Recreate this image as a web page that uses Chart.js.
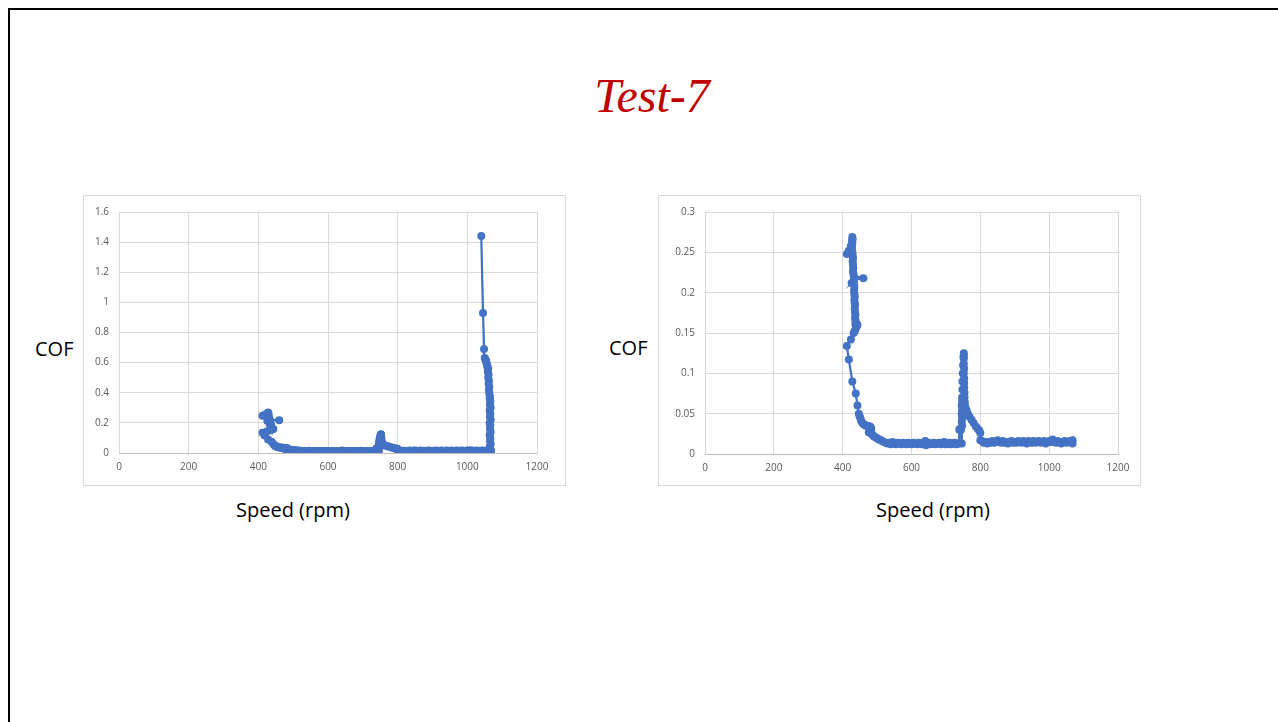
<!DOCTYPE html>
<html>
<head>
<meta charset="utf-8">
<script src="https://cdn.jsdelivr.net/npm/chart.js@4/dist/chart.umd.min.js"></script>
<style>
  html, body { margin: 0; padding: 0; background: #fff; }
  body { width: 1278px; height: 722px; position: relative; overflow: hidden; font-family: "Open Sans", Lato, sans-serif; }
  .slide { position: absolute; left: 8px; top: 8px; width: 1320px; height: 800px; border: 2px solid #000; box-sizing: border-box; }
  .title { position: absolute; left: 0; width: 1304px; top: 70px; text-align: center; font-family: "Liberation Serif", serif; font-style: italic; font-size: 48px; line-height: 52px; color: #c00000; }
  .box { position: absolute; top: 195px; width: 483px; height: 291px; border: 1px solid #d9d9d9; box-sizing: border-box; background: #fff; }
  .box canvas { display: block; }
  .lbl { position: absolute; font-size: 20px; line-height: 26px; color: #000; white-space: nowrap; }
</style>
</head>
<body>
<div class="slide"></div>
<div class="title">Test-7</div>

<div class="box" style="left:83px"><canvas id="cofFull" width="481" height="289"></canvas></div>
<div class="box" style="left:658px"><canvas id="cofZoom" width="481" height="289"></canvas></div>

<div class="lbl" style="left:35px; top:336px">COF</div>
<div class="lbl" style="left:236px; top:497px">Speed (rpm)</div>
<div class="lbl" style="left:609px; top:335px">COF</div>
<div class="lbl" style="left:876px; top:497px">Speed (rpm)</div>

<script>
(() => {
    'use strict'

    // run data: speed (rpm) and coefficient of friction
    const speed = [
        // start-up
        412, 418, 424, 427, 428, 429, 428, 427, 428, 429, 430, 429, 430, 431, 430, 431, 432, 460, 433, 426,
        432, 433, 434, 433, 434, 435, 434, 435, 436, 435, 436, 437, 436, 437, 438, 437, 439, 441, 443, 440,
        436, 432, 424, 412,
        // running in
        418, 428, 438, 443, 447, 449, 451, 453, 455, 458, 461, 464, 468, 472, 476, 480, 483, 478, 476, 480,
        484, 487, 490, 494, 498, 502, 506, 510, 515, 520, 525, 530,
        // steady
        535, 540, 545, 550, 555, 560, 565, 570, 575, 580, 585, 590, 595, 600, 605, 610, 615, 620, 625, 630,
        635, 640, 642, 645, 650, 655, 660, 665, 670, 675, 680, 685, 690, 695, 700, 705, 710, 715, 720, 725,
        730, 735,
        // bump around 750 rpm
        738, 739, 740, 744, 746, 747, 746, 747, 746, 747, 746, 747, 747, 748, 748, 749, 750, 751, 752, 752,
        752, 752, 753, 752, 753, 753, 753, 754, 754, 755, 757, 760, 764, 769, 775, 781, 787, 793, 797, 800,
        800,
        // steady
        805, 810, 815, 820, 825, 830, 835, 840, 845, 850, 855, 860, 865, 870, 875, 880, 885, 890, 895, 900,
        905, 910, 915, 920, 925, 930, 935, 940, 945, 950, 955, 960, 965, 970, 975, 980, 985, 990, 995, 1000,
        1005, 1010, 1015, 1020, 1025, 1030, 1035, 1040, 1045, 1050, 1055, 1060, 1065, 1068, 1068
    ]
    const cof = [
        0.248, 0.252, 0.258, 0.264, 0.269, 0.266, 0.261, 0.256, 0.251, 0.247, 0.243, 0.239, 0.235, 0.231, 0.227, 0.224, 0.221, 0.218, 0.216, 0.212,
        0.214, 0.210, 0.206, 0.202, 0.198, 0.195, 0.191, 0.187, 0.184, 0.180, 0.176, 0.173, 0.169, 0.166, 0.163, 0.161, 0.159, 0.161, 0.160, 0.157,
        0.153, 0.150, 0.142, 0.134,

        0.117, 0.090, 0.075, 0.060, 0.050, 0.047, 0.045, 0.042, 0.040, 0.038, 0.037, 0.036, 0.035, 0.035, 0.034, 0.034, 0.032, 0.030, 0.027, 0.026,
        0.025, 0.024, 0.022, 0.021, 0.020, 0.019, 0.018, 0.017, 0.016, 0.015, 0.014, 0.013,

        0.014, 0.012, 0.015, 0.013, 0.012, 0.014, 0.013, 0.012, 0.014, 0.013, 0.012, 0.014, 0.013, 0.012, 0.014, 0.013, 0.012, 0.014, 0.013, 0.012,
        0.014, 0.016, 0.011, 0.013, 0.014, 0.012, 0.013, 0.014, 0.012, 0.013, 0.014, 0.012, 0.013, 0.015, 0.012, 0.013, 0.014, 0.012, 0.013, 0.014,
        0.012, 0.013,

        0.013, 0.030, 0.031, 0.030, 0.013, 0.035, 0.040, 0.045, 0.050, 0.055, 0.060, 0.065, 0.070, 0.080, 0.090, 0.100, 0.110, 0.120, 0.125, 0.122,
        0.118, 0.112, 0.106, 0.100, 0.094, 0.088, 0.082, 0.076, 0.070, 0.064, 0.058, 0.054, 0.050, 0.046, 0.042, 0.038, 0.034, 0.031, 0.029, 0.026,
        0.017,

        0.016, 0.014, 0.015, 0.013, 0.015, 0.014, 0.016, 0.014, 0.015, 0.017, 0.015, 0.014, 0.016, 0.014, 0.015, 0.013, 0.015, 0.016, 0.014, 0.015,
        0.014, 0.016, 0.015, 0.014, 0.016, 0.015, 0.013, 0.016, 0.015, 0.014, 0.016, 0.014, 0.015, 0.016, 0.014, 0.015, 0.016, 0.013, 0.015, 0.016,
        0.015, 0.018, 0.015, 0.014, 0.016, 0.015, 0.013, 0.015, 0.016, 0.014, 0.015, 0.016, 0.014, 0.017, 0.013
    ]

    // end of run, only on the full-range chart
    const endSpeed = [
        1066, 1064, 1067, 1065, 1066, 1064, 1067, 1065, 1066, 1064, 1067, 1065, 1066, 1064, 1067, 1065, 1066, 1064, 1065, 1064,
        1063, 1062, 1063, 1061, 1062, 1060, 1061, 1059, 1060, 1058, 1057, 1056, 1055, 1054, 1052, 1050, 1048, 1045, 1040
    ]
    const endCof = [
        0.02, 0.04, 0.06, 0.08, 0.10, 0.12, 0.14, 0.16, 0.18, 0.20, 0.22, 0.24, 0.26, 0.28, 0.30, 0.32, 0.34, 0.36, 0.37, 0.38,
        0.40, 0.42, 0.44, 0.46, 0.48, 0.50, 0.52, 0.54, 0.56, 0.57, 0.58, 0.59, 0.60, 0.61, 0.62, 0.63, 0.69, 0.93, 1.44
    ]

    const xTicks = [0, 200, 400, 600, 800, 1000, 1200]
    const yTicksFull = [0, 0.2, 0.4, 0.6, 0.8, 1, 1.2, 1.4, 1.6]
    const yTicksZoom = [0, 0.05, 0.1, 0.15, 0.2, 0.25, 0.3]

    const blue = '#4472c4'
    const tickFont = { family: '"Open Sans", Lato, sans-serif', size: 10 }

    function points(xs, ys) {
        return xs.map((x, i) => ({ x: x, y: ys[i] }))
    }

    function makeChart(id, data, yTicks, pad) {
        return new Chart(document.getElementById(id), {
            type: 'scatter',
            data: {
                datasets: [{
                    data: data,
                    showLine: true,
                    borderColor: blue,
                    backgroundColor: blue,
                    borderWidth: 2.25,
                    pointRadius: 4,
                    pointBorderWidth: 0,
                    pointBackgroundColor: blue
                }]
            },
            options: {
                responsive: false,
                animation: false,
                layout: { padding: { top: pad.top, right: pad.right, left: 0, bottom: 0 } },
                plugins: { legend: { display: false }, tooltip: { enabled: false } },
                scales: {
                    x: {
                        type: 'linear',
                        min: xTicks[0],
                        max: xTicks[xTicks.length - 1],
                        afterBuildTicks: s => { s.ticks = xTicks.map(v => ({ value: v })) },
                        afterFit: s => { s.height = pad.bottom },
                        grid: { color: '#d9d9d9', drawTicks: false },
                        border: { color: '#bfbfbf' },
                        ticks: { color: '#595959', font: tickFont, padding: 8, maxRotation: 0, callback: v => String(v) }
                    },
                    y: {
                        min: yTicks[0],
                        max: yTicks[yTicks.length - 1],
                        afterBuildTicks: s => { s.ticks = yTicks.map(v => ({ value: v })) },
                        afterFit: s => { s.width = pad.left },
                        grid: { color: '#d9d9d9', drawTicks: false },
                        border: { display: false },
                        ticks: { color: '#595959', font: tickFont, padding: 10, callback: v => String(v) }
                    }
                }
            }
        })
    }

    makeChart('cofFull', points(speed.concat(endSpeed), cof.concat(endCof)), yTicksFull,
        { top: 14, right: 28, bottom: 32, left: 35 })
    makeChart('cofZoom', points(speed, cof), yTicksZoom,
        { top: 15, right: 22, bottom: 31, left: 46 })
})()
</script>
</body>
</html>
